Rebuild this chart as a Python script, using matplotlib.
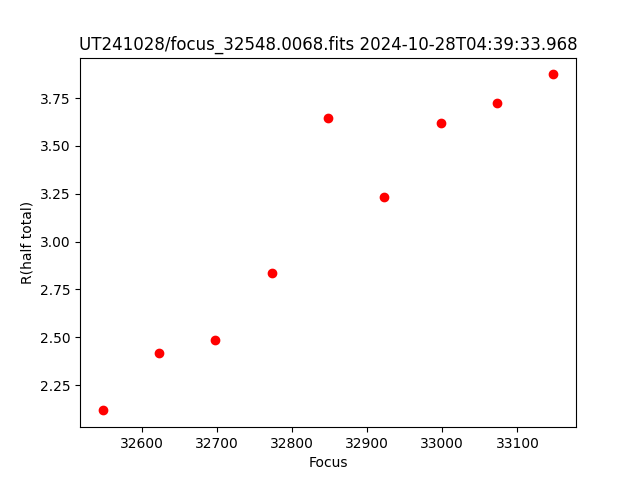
import matplotlib
matplotlib.use("Agg")
import matplotlib.pyplot as plt

focus = [32548, 32623, 32698, 32773, 32848, 32923, 32998, 33073, 33148]
r_half = [2.118, 2.416, 2.484, 2.834, 3.644, 3.231, 3.618, 3.722, 3.874]

fig = plt.figure(figsize=(6.4, 4.8), dpi=100)
plt.plot(focus, r_half, 'ro')
plt.xlabel('Focus')
plt.ylabel('R(half total)')
plt.title('UT241028/focus_32548.0068.fits 2024-10-28T04:39:33.968')
plt.savefig('out.png')
